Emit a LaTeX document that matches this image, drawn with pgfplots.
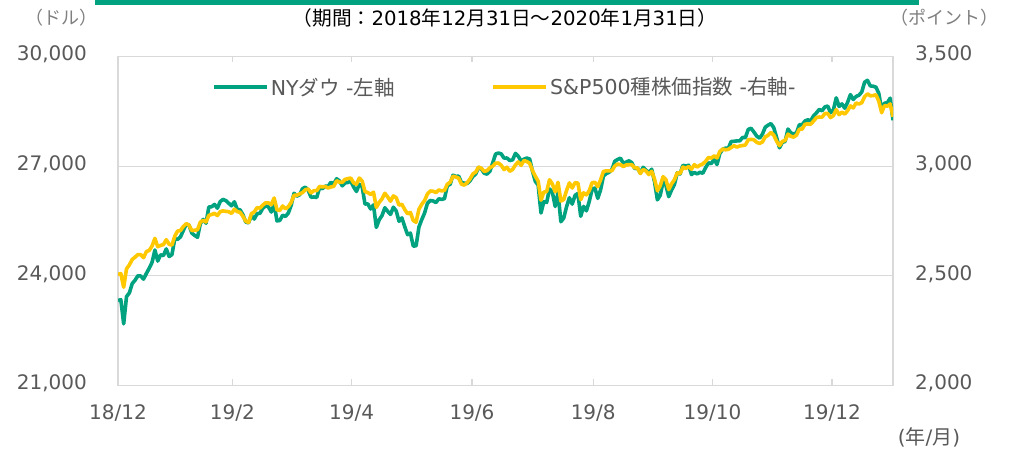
\documentclass[border=0pt]{standalone}
\usepackage{fontspec}
\setmainfont{DejaVu Sans}
\newfontfamily\jp{Noto Sans CJK JP}
\usepackage{pgfplots}
\usepackage{pgfplotstable}
\pgfplotsset{compat=1.18}
\definecolor{dowgreen}{HTML}{00A27F}
\definecolor{spyellow}{HTML}{FFC800}
\definecolor{gridgray}{HTML}{D9D9D9}
\definecolor{labgray}{HTML}{595959}
\definecolor{unitgray}{HTML}{808080}
\pgfplotstableread{
dj sp
23327 2506.85
23346 2510.03
22686 2447.89
23433 2531.94
23531 2549.69
23787 2574.41
23879 2584.96
24001 2596.64
23996 2596.26
23910 2582.61
24065 2610.30
24207 2616.10
24370 2635.96
24706 2670.71
24404 2632.90
24575 2638.70
24553 2642.33
24737 2664.76
24528 2643.85
24580 2640.00
25014 2681.05
24999 2704.10
25064 2706.53
25239 2724.87
25411 2737.70
25390 2731.61
25169 2706.05
25106 2707.88
25053 2709.80
25425 2744.73
25543 2753.03
25439 2745.73
25883 2775.60
25891 2779.76
25954 2784.70
25850 2774.88
26031 2792.67
26091 2796.11
26057 2793.90
25985 2792.38
25916 2784.49
26026 2803.69
25819 2792.81
25806 2789.65
25673 2771.45
25473 2748.93
25450 2743.07
25650 2783.30
25554 2791.52
25702 2810.92
25709 2808.48
25849 2822.48
25914 2832.94
25887 2832.57
25745 2824.23
25963 2854.88
25502 2800.71
25516 2798.36
25657 2818.46
25626 2805.37
25717 2815.44
25929 2834.40
26258 2867.19
26179 2867.24
26218 2873.40
26385 2879.39
26425 2892.74
26341 2895.77
26150 2878.20
26157 2888.21
26143 2888.32
26412 2907.41
26384 2905.58
26452 2907.06
26449 2900.45
26559 2905.03
26511 2907.97
26656 2933.68
26597 2927.25
26462 2926.17
26543 2939.88
26554 2943.03
26593 2945.83
26430 2923.73
26307 2917.52
26505 2945.64
26438 2932.47
25965 2884.05
25968 2879.42
25828 2870.72
25942 2881.40
25324 2811.87
25532 2834.41
25648 2850.96
25862 2876.32
25764 2859.53
25679 2840.23
25877 2864.36
25776 2856.27
25490 2822.24
25586 2826.06
25347 2802.39
25126 2783.02
25169 2788.86
24815 2752.06
24819 2744.45
25332 2803.27
25539 2826.15
25720 2843.49
25984 2873.34
26062 2886.73
26048 2885.72
26004 2879.84
26107 2891.64
26090 2886.98
26112 2889.67
26466 2917.75
26504 2926.46
26753 2954.18
26720 2950.46
26727 2945.35
26548 2917.38
26536 2913.78
26526 2924.92
26600 2941.76
26717 2964.33
26786 2973.01
26966 2995.82
26922 2990.41
26806 2975.95
26783 2979.63
26860 2993.07
27088 2999.91
27332 3013.77
27359 3014.30
27336 3004.04
27219 2984.42
27223 2995.11
27154 2976.61
27172 2985.03
27350 3005.47
27270 3019.56
27140 3003.67
27192 3025.86
27221 3020.97
27198 3013.18
26864 2980.38
26583 2953.56
26485 2932.05
25718 2844.74
26030 2881.77
26008 2883.98
26378 2938.09
26287 2918.65
25897 2882.70
26280 2926.32
25480 2840.60
25579 2847.60
25886 2888.68
26136 2923.65
25962 2900.51
26202 2924.43
26253 2922.95
25629 2847.11
25899 2878.38
25778 2869.16
26036 2887.94
26363 2924.58
26403 2926.46
26118 2906.27
26356 2937.78
26728 2976.00
26797 2978.71
26835 2978.43
26909 2979.39
27137 3000.93
27182 3009.57
27220 3007.39
27076 2997.96
27111 3005.70
27147 3006.73
27095 3006.79
26935 2992.07
26950 2991.78
26808 2966.60
26970 2984.87
26891 2977.62
26820 2961.79
26917 2976.74
26573 2940.25
26079 2887.61
26202 2910.63
26573 2952.01
26479 2938.79
26165 2893.06
26347 2919.40
26497 2938.13
26817 2970.27
26787 2966.15
27025 2995.68
27002 2989.69
27026 2997.95
26770 2986.20
26828 3006.72
26788 2995.99
26834 3004.52
26806 3010.29
26959 3022.55
27091 3039.42
27071 3036.89
27186 3046.77
27046 3037.56
27347 3066.91
27462 3078.27
27493 3074.62
27492 3076.78
27675 3085.18
27681 3093.08
27691 3087.01
27691 3091.84
27784 3094.04
27782 3096.63
28005 3120.46
28036 3122.03
27934 3120.18
27821 3108.46
27766 3103.54
27876 3110.29
28066 3133.64
28122 3140.52
28164 3153.63
28051 3140.98
27783 3113.87
27503 3093.20
27650 3112.76
27678 3117.43
28015 3145.91
27910 3135.96
27882 3132.52
27911 3141.63
28133 3168.57
28135 3168.80
28236 3191.45
28268 3192.52
28240 3191.14
28377 3205.37
28455 3221.22
28551 3224.01
28516 3223.38
28621 3239.91
28645 3240.02
28462 3221.29
28538 3230.78
28869 3257.85
28635 3234.85
28703 3246.28
28584 3237.18
28745 3253.05
28957 3274.70
28824 3265.35
28907 3288.13
28940 3283.15
29030 3289.29
29298 3316.81
29348 3329.62
29196 3320.79
29186 3321.75
29160 3325.54
28990 3295.47
28535 3243.63
28723 3276.24
28734 3273.40
28860 3283.66
28256 3225.52
}\stockdata

\begin{document}
\begin{tikzpicture}[x=1bp,y=1bp]
\useasboundingbox (0,0) rectangle (1015,451);
\fill[white] (0,0) rectangle (1015,451);
\fill[dowgreen] (95,445.5) rectangle (919,451);
\node[anchor=center, inner sep=0pt, font=\fontsize{19.7bp}{23bp}\selectfont, text=black] at (505,433)
  {{\jp （期間：}2018{\jp 年}12{\jp 月}31{\jp 日～}2020{\jp 年}1{\jp 月}31{\jp 日）}};
\node[anchor=center, inner sep=0pt, font=\fontsize{18bp}{21bp}\selectfont\jp, text=unitgray] at (61,433) {（ドル）};
\node[anchor=center, inner sep=0pt, font=\fontsize{18bp}{21bp}\selectfont\jp, text=unitgray] at (944,433) {（ポイント）};
\node[anchor=center, inner sep=0pt, font=\fontsize{20bp}{23bp}\selectfont, text=labgray] at (929,14) {({\jp 年}/{\jp 月})};

\begin{axis}[
  at={(118bp,65.5bp)}, anchor=south west,
  width=775bp, height=329bp, scale only axis,
  xmin=0, xmax=273, ymin=21000, ymax=30000,
  scaled y ticks=false, scaled x ticks=false,
  axis line style={draw=gridgray, line width=1.2bp},
  ymajorgrids, grid style={draw=gridgray, line width=1.2bp},
  ytick={21000,24000,27000,30000},
  yticklabels={{21,000},{24,000},{27,000},{30,000}},
  ytick style={draw=none},
  yticklabel style={anchor=base east, inner sep=0pt, xshift=-31bp, yshift=-4.3bp, font=\fontsize{20bp}{23bp}\selectfont, text=labgray},
  xtick={0,40.3,82.3,124.7,167.4,209.4,251.5},
  xticklabels={18/12,19/2,19/4,19/6,19/8,19/10,19/12},
  tick align=inside, major tick length=6bp,
  xtick style={draw=gridgray, line width=1.2bp},
  xticklabel style={anchor=base, inner sep=0pt, yshift=-34.5bp, font=\fontsize{20bp}{23bp}\selectfont, text=labgray},
  legend columns=2,
  legend style={draw=none, fill=none, at={(axis description cs:0.1213,0.907)}, anchor=west,
    inner xsep=0pt, inner ysep=0pt,
    font=\fontsize{20.5bp}{24bp}\selectfont, text=labgray,
    /tikz/every even column/.append style={column sep=95bp}},
  legend image code/.code={\draw[#1] (0bp,0bp) -- (53bp,0bp);},
]
\addplot[dowgreen, line width=3.6bp, line join=round] table[x expr=\coordindex, y=dj] {\stockdata};
\addlegendentry{NY{\jp ダウ} -{\jp 左軸}}
\addlegendimage{spyellow, line width=3.6bp}
\addlegendentry{S\&P500{\jp 種株価指数} -{\jp 右軸}-}
\end{axis}

\begin{axis}[
  at={(118bp,65.5bp)}, anchor=south west,
  width=775bp, height=329bp, scale only axis,
  xmin=0, xmax=273, ymin=2000, ymax=3500,
  scaled y ticks=false,
  axis line style={draw=none},
  xtick=\empty,
  ytick={2000,2500,3000,3500},
  yticklabels={{2,000},{2,500},{3,000},{3,500}},
  yticklabel pos=right,
  ytick style={draw=none},
  yticklabel style={anchor=base west, inner sep=0pt, xshift=22bp, yshift=-4.3bp, font=\fontsize{20bp}{23bp}\selectfont, text=labgray},
]
\addplot[spyellow, line width=3.6bp, line join=round] table[x expr=\coordindex, y=sp] {\stockdata};
\end{axis}
\end{tikzpicture}
\end{document}
